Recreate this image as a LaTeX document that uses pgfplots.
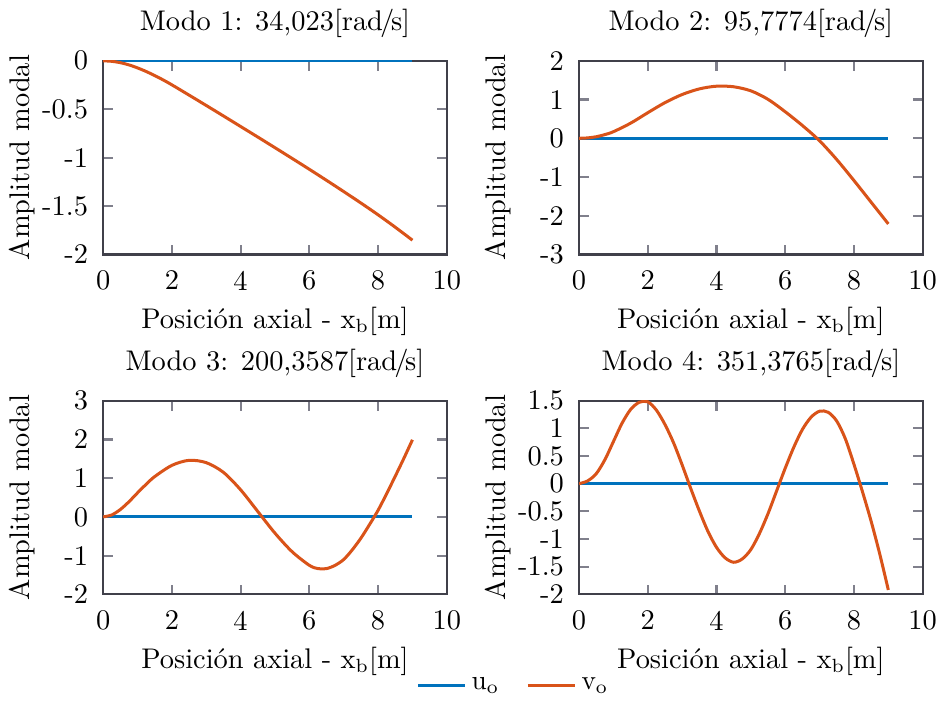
\documentclass[border=0pt]{standalone}
\usepackage{pgfplots}
\pgfplotsset{compat=1.18}
\usepgfplotslibrary{groupplots}
\definecolor{mblue}{rgb}{0,0.447,0.741}
\definecolor{morange}{rgb}{0.85,0.325,0.098}
\definecolor{axc}{rgb}{0.25,0.25,0.29}
\definecolor{tkc}{rgb}{0.5,0.5,0.55}
\newcommand{\rads}{[rad\kern-.1em/\kern-.12em s]}
\newcommand{\ff}{\fontsize{10.4}{12.5}\selectfont}
\begin{document}
\begin{tikzpicture}
\begin{groupplot}[
  group style={group size=2 by 2, horizontal sep=48.4pt, vertical sep=53.5pt},
  scale only axis, width=125.8pt, height=70.9pt,
  xmin=0, xmax=10, xtick={0,2,4,6,8,10},
  xticklabels={0,2,4,6,8,10},
  tick align=inside, tick pos=both,
  major tick length=3.6pt,
  axis line style={axc, line width=0.8pt},
  every tick/.append style={tkc, line width=0.8pt},
  tick label style={font=\ff},
  label style={font=\ff},
  title style={font=\ff, yshift=-1pt},
  xticklabel style={yshift=-2.5pt},
  yticklabel style={xshift=-2pt},
  xlabel={Posición axial - x$_\mathrm{b}$[m]},
  ylabel={Amplitud modal},
  ylabel style={at={(axis description cs:-0.236,0.5)}, anchor=center, rotate=0},
  xlabel style={at={(axis description cs:0.5,-0.345)}, anchor=center},
  every axis plot/.append style={line width=1.1pt},
]
\nextgroupplot[title={Modo 1: 34,023\rads},
  ymin=-2, ymax=0, ytick={-2,-1.5,-1,-0.5,0}, yticklabels={-2,-1.5,-1,-0.5,0}]
\addplot[mblue] coordinates {(0,0) (9,0)};
\addplot[morange, smooth] coordinates {(0,0) (0.25,-0.005) (0.5,-0.019) (0.75,-0.042) (1,-0.073) (1.25,-0.11) (1.5,-0.152) (1.75,-0.198) (2,-0.248) (2.5,-0.354) (3,-0.461) (3.5,-0.569) (4,-0.678) (4.5,-0.787) (5,-0.897) (5.5,-1.008) (6,-1.12) (6.5,-1.234) (7,-1.35) (7.5,-1.468) (8,-1.59) (8.5,-1.718) (9,-1.852)};
\nextgroupplot[title={Modo 2: 95,7774\rads},
  ymin=-3, ymax=2, ytick={-3,-2,-1,0,1,2}, yticklabels={-3,-2,-1,0,1,2}]
\addplot[mblue] coordinates {(0,0) (9,0)};
\addplot[morange, smooth] coordinates {(0,0) (0.25,0.01) (0.5,0.04) (0.75,0.095) (1,0.17) (1.5,0.39) (2,0.66) (2.5,0.92) (3,1.13) (3.5,1.275) (4,1.345) (4.5,1.33) (5,1.225) (5.5,1.005) (6,0.685) (6.5,0.33) (7,-0.065) (7.5,-0.55) (8,-1.09) (8.5,-1.65) (9,-2.21)};
\nextgroupplot[title={Modo 3: 200,3587\rads},
  ymin=-2, ymax=3, ytick={-2,-1,0,1,2,3}, yticklabels={-2,-1,0,1,2,3}]
\addplot[mblue] coordinates {(0,0) (9,0)};
\addplot[morange, smooth] coordinates {(0,0) (0.25,0.05) (0.5,0.19) (0.75,0.39) (1,0.62) (1.25,0.84) (1.5,1.04) (2,1.33) (2.5,1.46) (3,1.40) (3.5,1.15) (4,0.70) (4.5,0.14) (5,-0.42) (5.5,-0.90) (6,-1.25) (6.25,-1.335) (6.5,-1.335) (6.75,-1.25) (7,-1.10) (7.25,-0.85) (7.5,-0.55) (7.75,-0.20) (8,0.17) (8.25,0.60) (8.5,1.05) (8.75,1.51) (9,1.99)};
\nextgroupplot[title={Modo 4: 351,3765\rads},
  ymin=-2, ymax=1.5, ytick={-2,-1.5,-1,-0.5,0,0.5,1,1.5}, yticklabels={-2,-1.5,-1,-0.5,0,0.5,1,1.5},
  legend columns=2,
  legend style={draw=none, fill=none, font=\ff, at={(axis description cs:-0.186,-0.47)}, anchor=center, /tikz/every even column/.append style={column sep=8pt}},
  legend cell align=left]
\addplot[mblue] coordinates {(0,0) (9,0)};
\addlegendentry{$\mathrm{u_o}$}
\addplot[morange, smooth] coordinates {(0,0) (0.25,0.05) (0.5,0.18) (0.75,0.43) (1,0.76) (1.25,1.09) (1.5,1.34) (1.75,1.47) (2,1.48) (2.25,1.33) (2.5,1.07) (2.75,0.74) (3,0.34) (3.25,-0.085) (3.5,-0.49) (3.75,-0.86) (4,-1.15) (4.25,-1.34) (4.5,-1.42) (4.75,-1.36) (5,-1.19) (5.25,-0.90) (5.5,-0.54) (5.75,-0.13) (6,0.28) (6.25,0.66) (6.5,0.98) (6.75,1.20) (7,1.31) (7.25,1.29) (7.5,1.13) (7.75,0.81) (8,0.35) (8.25,-0.15) (8.5,-0.68) (8.75,-1.27) (9,-1.92)};
\addlegendentry{$\mathrm{v_o}$}
\end{groupplot}
\end{tikzpicture}
\end{document}
